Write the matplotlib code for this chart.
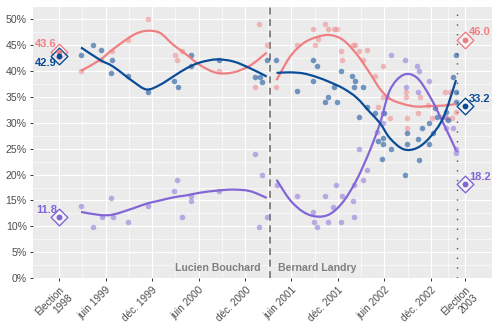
import matplotlib
matplotlib.use("Agg")
import matplotlib.pyplot as plt
from matplotlib.path import Path
from matplotlib.patches import PathPatch

plt.rcParams['font.family'] = ['Liberation Sans', 'DejaVu Sans']

# ---- x axis (decimal years) ----
tick_pos = [1998.912, 1999.414, 1999.915, 2000.415, 2000.918,
            2001.414, 2001.915, 2002.414, 2002.915, 2003.282]
tick_labels = ['Élection\n1998', 'juin 1999', 'déc. 1999', 'juin 2000', 'déc. 2000',
               'juin 2001', 'déc. 2001', 'juin 2002', 'déc. 2002', 'Élection\n2003']

landry_start = 2001.188      # change of premier
campaign_start = 2003.195    # start of the 2003 campaign

# ---- polls ----
pq_dates = [1999.149, 1999.281, 1999.367, 1999.486, 1999.468, 1999.655, 1999.867,
            2000.150, 2000.190, 2000.330, 2000.330, 2000.634, 2001.025, 2001.075,
            2001.100, 2001.147,
            2001.247, 2001.470, 2001.649, 2001.692, 2001.642, 2001.775, 2001.810,
            2001.872, 2001.901, 2001.947, 2002.069, 2002.098, 2002.090, 2002.180,
            2002.144, 2002.224, 2002.316, 2002.410, 2002.348, 2002.396, 2002.385,
            2002.482, 2002.402, 2002.636, 2002.654, 2002.654, 2002.779, 2002.815,
            2002.790, 2002.898, 2002.941, 2002.898, 2002.959, 2002.977, 2003.077,
            2003.095, 2003.149, 2003.185, 2003.185, 2003.182]
pq_values = [43.0, 45.0, 44.0, 42.0, 39.6, 39.0, 35.9,
             38.0, 36.9, 43.0, 40.9, 42.0, 38.9, 38.9,
             37.9, 42.0,
             42.0, 36.1, 42.0, 40.9, 38.0, 34.0, 34.9,
             36.9, 33.9, 40.0, 39.0, 38.0, 36.9, 36.9,
             31.0, 33.0, 31.9, 31.8, 26.5, 25.9, 23.0,
             24.9, 27.0, 19.9, 28.0, 25.9, 26.9, 28.9,
             22.9, 25.9, 28.0, 29.9, 32.8, 31.0, 32.1,
             30.5, 38.9, 43.0, 36.0, 34.0]

plq_dates = [1999.149, 1999.364, 1999.486, 1999.655, 1999.867, 2000.161, 2000.233,
             2000.179, 2000.634, 2001.021, 2001.068, 2001.147,
             2001.247, 2001.470, 2001.649, 2001.667, 2001.696, 2001.775, 2001.810,
             2001.872, 2001.901, 2001.947, 2001.955, 2002.079, 2002.101, 2002.144,
             2002.224, 2002.180, 2002.316, 2002.396, 2002.402, 2002.348, 2002.478,
             2002.439, 2002.643, 2002.643, 2002.660, 2002.660, 2002.779, 2002.797,
             2002.887, 2002.923, 2003.031, 2003.067, 2003.120, 2003.091, 2003.145,
             2003.185]
plq_values = [40.0, 42.0, 43.9, 46.0, 50.0, 43.1, 43.9,
              42.0, 40.0, 36.9, 49.0, 45.0,
              36.9, 45.0, 48.0, 45.0, 46.1, 49.0, 48.0,
              48.0, 48.0, 43.9, 42.0, 45.0, 45.0, 43.9,
              44.0, 42.0, 39.0, 41.0, 35.0, 33.0, 30.9,
              35.0, 35.0, 36.0, 30.9, 28.9, 31.8, 35.0,
              33.4, 30.9, 31.0, 36.0, 36.0, 30.9, 30.9,
              32.0]

adq_dates = [1999.149, 1999.281, 1999.372, 1999.472, 1999.490, 1999.655, 1999.867,
             2000.153, 2000.185, 2000.233, 2000.330, 2000.330, 2000.634, 2001.025,
             2001.094, 2001.068, 2001.147,
             2001.253, 2001.470, 2001.649, 2001.660, 2001.692, 2001.775, 2001.804,
             2001.864, 2001.893, 2001.954, 2001.943, 2002.073, 2002.090, 2002.090,
             2002.187, 2002.224, 2002.144, 2002.331, 2002.396, 2002.402, 2002.482,
             2002.633, 2002.647, 2002.768, 2002.790, 2002.779, 2002.898, 2003.063,
             2003.077, 2003.149, 2003.185, 2003.185]
adq_values = [13.9, 9.8, 11.9, 15.5, 11.9, 10.9, 13.9,
              16.9, 18.9, 11.9, 15.9, 14.9, 16.9, 23.9,
              19.9, 9.8, 11.9,
              18.0, 15.9, 12.8, 10.9, 9.9, 15.9, 10.9,
              13.8, 18.0, 15.9, 10.9, 14.9, 18.0, 11.9,
              19.0, 20.9, 24.9, 28.2, 31.9, 29.9, 43.0,
              42.0, 36.9, 41.0, 40.0, 36.0, 38.0, 31.0,
              28.9, 28.9, 24.9, 24.1]

# ---- smoothed trends, one segment per premier ----
trend_dates_bouchard = [1999.149, 1999.353, 1999.496, 1999.712, 1999.856, 1999.999, 2000.142,
                        2000.286, 2000.429, 2000.609, 2000.788, 2000.968, 2001.147]
pq_trend_bouchard = [44.5, 42.1, 40.8, 37.9, 36.4, 37.3, 38.9, 40.5, 41.6, 42.2, 41.8, 40.5, 38.9]
plq_trend_bouchard = [40.0, 42.1, 44.2, 46.9, 47.7, 47.3, 45.0, 43.1, 41.1, 39.6, 39.7, 41.0, 43.5]
adq_trend_bouchard = [12.8, 12.2, 12.3, 13.5, 14.4, 15.0, 15.6, 16.0, 16.5, 16.9, 17.1, 16.8, 15.5]

trend_dates_landry = [2001.253, 2001.398, 2001.541, 2001.685, 2001.829, 2001.972, 2002.116,
                      2002.259, 2002.367, 2002.474, 2002.617, 2002.762, 2002.905, 2003.048,
                      2003.185]
pq_trend_landry = [39.6, 39.7, 39.5, 38.8, 37.8, 36.6, 34.8, 32.0, 29.9, 27.0, 24.9, 25.1,
                   27.2, 31.0, 38.2]
plq_trend_landry = [38.2, 42.7, 45.3, 46.5, 46.9, 45.9, 43.2, 39.5, 36.5, 34.6, 33.6, 33.1,
                    33.2, 33.3, 33.6]
adq_trend_landry = [19.0, 15.1, 12.8, 11.9, 12.4, 14.8, 19.0, 24.7, 29.9, 36.3, 39.2, 38.7,
                    35.0, 29.9, 24.7]

# ---- election results ----
election_dates = [1998.912, 2003.282]
pq_results = [42.9, 33.2]
plq_results = [43.6, 46.0]
adq_results = [11.8, 18.2]

PQ_COLOR = '#0A4C98'
PLQ_COLOR = '#F07F83'
ADQ_COLOR = '#8366D6'


def smooth_path(xs, ys):
    """Cubic Bezier path through the knots (Catmull-Rom tangents)."""
    pts = list(zip(xs, ys))
    verts = [pts[0]]
    codes = [Path.MOVETO]
    n = len(pts)
    for i in range(n - 1):
        p0 = pts[i - 1] if i > 0 else pts[i]
        p1 = pts[i]
        p2 = pts[i + 1]
        p3 = pts[i + 2] if i + 2 < n else pts[i + 1]
        c1 = (p1[0] + (p2[0] - p0[0]) / 6, p1[1] + (p2[1] - p0[1]) / 6)
        c2 = (p2[0] - (p3[0] - p1[0]) / 6, p2[1] - (p3[1] - p1[1]) / 6)
        verts += [c1, c2, p2]
        codes += [Path.CURVE4] * 3
    return Path(verts, codes)


fig = plt.figure(figsize=(5.0, 3.34), dpi=100)
ax = fig.add_axes([33 / 500, 1 - 278.3 / 334, (492 - 33) / 500, (278.3 - 7) / 334])
ax.set_facecolor('#EBEBEB')
for s in ax.spines.values():
    s.set_visible(False)

ax.set_xlim(1998.632, 2003.572)
ax.set_ylim(0, 52.3)

# grid
y_major = [0, 5, 10, 15, 20, 25, 30, 35, 40, 45, 50]
y_minor = [2.5, 7.5, 12.5, 17.5, 22.5, 27.5, 32.5, 37.5, 42.5, 47.5]
x_minor = [(a + b) / 2 for a, b in zip(tick_pos[:-1], tick_pos[1:])]
ax.set_xticks(tick_pos)
ax.set_xticks(x_minor, minor=True)
ax.set_yticks(y_major)
ax.set_yticks(y_minor, minor=True)
ax.grid(which='major', color='white', linewidth=0.85, zorder=0)
ax.grid(which='minor', color='white', linewidth=0.4, zorder=0)
ax.set_axisbelow(True)

ax.set_yticklabels([f'{v}%' for v in y_major], fontsize=7.6, color='#4D4D4D')
ax.set_xticklabels(tick_labels, fontsize=7.3, color='#4D4D4D', rotation=45,
                   ha='right', va='top', rotation_mode='anchor', multialignment='right')
ax.tick_params(which='major', length=2.5, width=0.7, color='#333333', pad=2)
ax.tick_params(which='minor', length=0)

# polls
ax.scatter(plq_dates, plq_values, s=16, color=PLQ_COLOR, alpha=0.5, linewidths=0, zorder=2)
ax.scatter(pq_dates, pq_values, s=16, color=PQ_COLOR, alpha=0.55, linewidths=0, zorder=2)
ax.scatter(adq_dates, adq_values, s=16, color=ADQ_COLOR, alpha=0.5, linewidths=0, zorder=2)

# trends
for dates, vals, col in [
        (trend_dates_bouchard, plq_trend_bouchard, PLQ_COLOR),
        (trend_dates_bouchard, adq_trend_bouchard, ADQ_COLOR),
        (trend_dates_bouchard, pq_trend_bouchard, PQ_COLOR),
        (trend_dates_landry, plq_trend_landry, PLQ_COLOR),
        (trend_dates_landry, adq_trend_landry, ADQ_COLOR),
        (trend_dates_landry, pq_trend_landry, PQ_COLOR)]:
    ax.add_patch(PathPatch(smooth_path(dates, vals), facecolor='none', edgecolor=col,
                           linewidth=1.6, capstyle='butt', joinstyle='round', zorder=3))

# premier change and campaign start
ax.axvline(landry_start, color='#666666', linewidth=1.1, linestyle=(0, (4.5, 3)), zorder=1.5)
ax.axvline(campaign_start, color='#555555', linewidth=1.0, linestyle=(0, (1, 6)), zorder=1.5)
ax.annotate('Lucien Bouchard', xy=(landry_start, 2.0), xytext=(-6.8, 0),
            textcoords='offset points', ha='right', va='center',
            fontsize=7.6, fontweight='bold', color='#7F7F7F')
ax.annotate('Bernard Landry', xy=(landry_start, 2.0), xytext=(5.6, 0),
            textcoords='offset points', ha='left', va='center',
            fontsize=7.6, fontweight='bold', color='#7F7F7F')

# election results
for results, col in [(adq_results, ADQ_COLOR), (plq_results, PLQ_COLOR), (pq_results, PQ_COLOR)]:
    ax.scatter(election_dates, results, marker='D', s=72, facecolor=(1, 1, 1, 0.55),
               edgecolor=col, linewidths=1.0, zorder=5)
    ax.scatter(election_dates, results, marker='o', s=18, color=col, linewidths=0, zorder=6)

label_specs = [
    (election_dates[0], plq_results[0], PLQ_COLOR, 'right', (-1.5, 6.0)),
    (election_dates[0], pq_results[0], PQ_COLOR, 'right', (-1.5, -5.4)),
    (election_dates[0], adq_results[0], ADQ_COLOR, 'right', (-1.5, 4.8)),
    (election_dates[1], plq_results[1], PLQ_COLOR, 'left', (3.0, 5.3)),
    (election_dates[1], pq_results[1], PQ_COLOR, 'left', (3.0, 5.0)),
    (election_dates[1], adq_results[1], ADQ_COLOR, 'left', (3.0, 5.0)),
]
for x, v, col, ha, off in label_specs:
    ax.annotate(f'{v:.1f}', xy=(x, v), xytext=off, textcoords='offset points',
                ha=ha, va='center', fontsize=8, fontweight='bold', color=col, zorder=7)

fig.savefig('out.png', dpi=100)
